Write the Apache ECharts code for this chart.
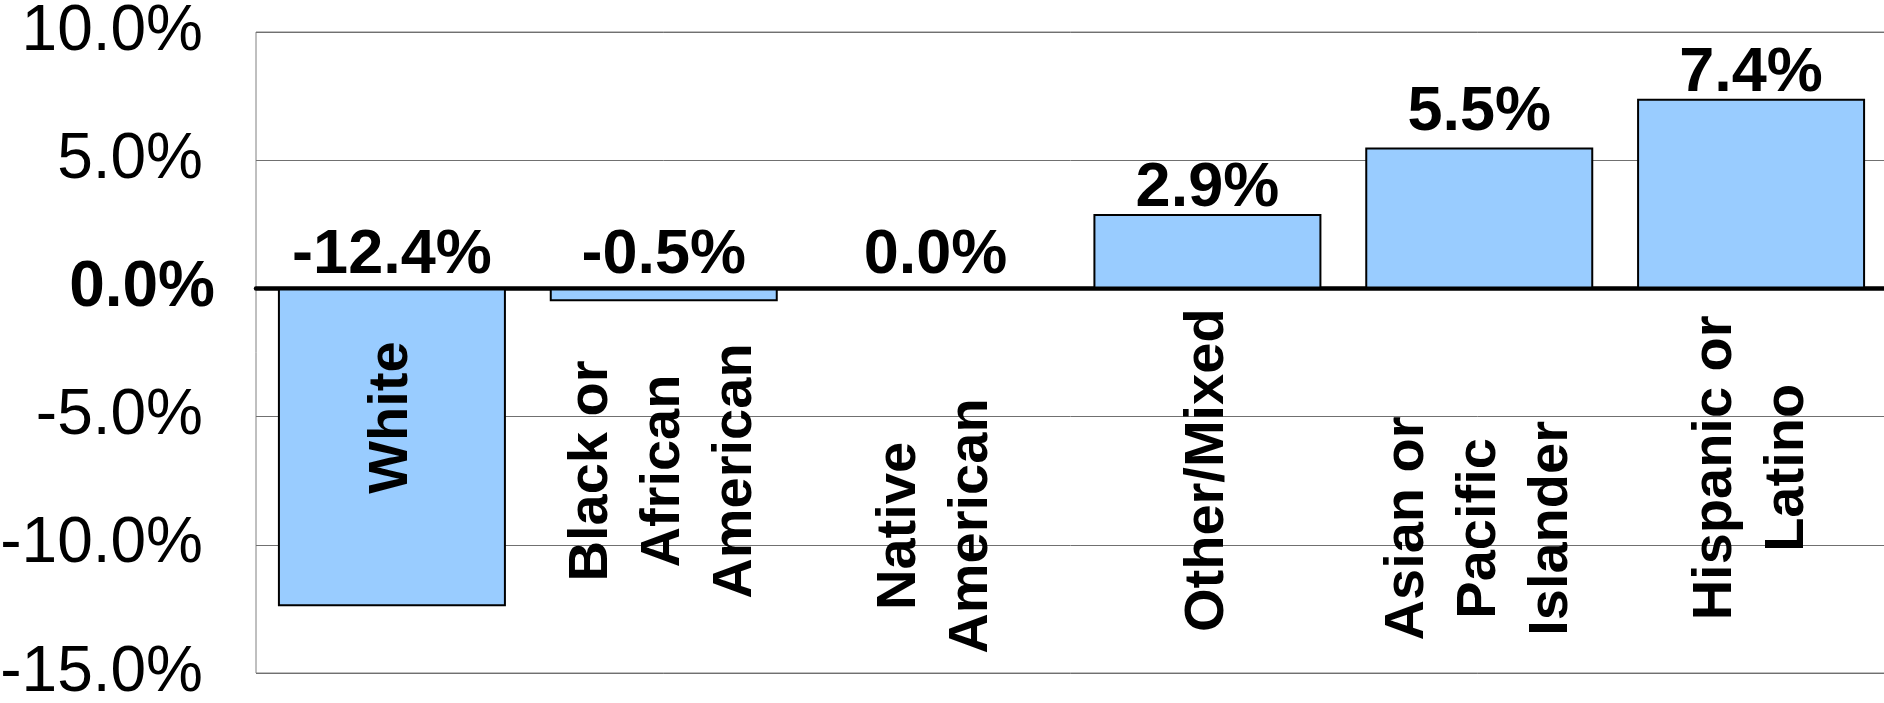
<!DOCTYPE html>
<html>
<head>
<meta charset="utf-8">
<script src="https://cdn.jsdelivr.net/npm/echarts@6/dist/echarts.min.js"></script>
<style>
html,body{margin:0;padding:0;background:#fff;}
#chart{width:1884px;height:703px;}
</style>
</head>
<body>
<div id="chart"></div>
<script>
const categories = ['White', 'Black or\nAfrican\nAmerican', 'Native\nAmerican', 'Other/Mixed', 'Asian or\nPacific\nIslander', 'Hispanic or\nLatino'];
const changeValues = [-12.4, -0.5, 0.0, 2.9, 5.5, 7.4];
const yTickValues = [-15, -10, -5, 0, 5, 10];

// layout only (not data): gap of each category label below the zero line, and value-label distances
const categoryLabelGap = [53, 55, 110, 20, 128, 27];
const valueLabelDistance = [1, 1, 1, -6, 3, -6];

const FONT = '"Liberation Sans", Arial, Helvetica, sans-serif';

const chart = echarts.init(document.getElementById('chart'), null, {renderer: 'canvas'});

const option = {
  animation: false,
  backgroundColor: '#ffffff',
  grid: {
    left: 256, top: 32, right: -3, bottom: 30,
    outerBoundsMode: 'none',
    containLabel: false,
    show: true,
    borderColor: '#808080',
    borderWidth: 1,
    backgroundColor: 'transparent'
  },
  xAxis: {
    type: 'category',
    data: categories,
    axisLine: { show: true, onZero: true, lineStyle: { color: '#000', width: 4.5 } },
    axisTick: { show: false },
    splitLine: { show: false },
    axisLabel: { show: false }
  },
  yAxis: {
    type: 'value',
    min: -15, max: 10, interval: 5,
    axisLine: { show: false },
    axisTick: { show: false },
    splitLine: { show: true, lineStyle: { color: '#707070', width: 1 } },
    axisLabel: {
      margin: 41,
      showMinLabel: true, showMaxLabel: true,
      formatter: function (v) {
        if (!yTickValues.includes(v)) return '';
        return v === 0 ? '{b|0.0%}' : '{n|' + v.toFixed(1) + '%}';
      },
      rich: {
        n: { fontFamily: FONT, fontSize: 64, color: '#000', padding: [0, 12, 0, 0] },
        b: { fontFamily: FONT, fontSize: 64, fontWeight: 'bold', color: '#000' }
      }
    }
  },
  series: [
    {
      type: 'bar',
      data: changeValues,
      barWidth: 228,
      itemStyle: { color: '#99CCFF', borderColor: '#000', borderWidth: 2 },
      z: 2,
      silent: true
    },
    {
      // value labels: placed above the bar top, or above the zero line for non-positive values
      type: 'bar',
      data: changeValues.map((v, i) => ({
        value: Math.max(v, 0),
        label: { distance: valueLabelDistance[i] }
      })),
      barWidth: 228,
      barGap: '-100%',
      itemStyle: { color: 'rgba(0,0,0,0)', borderWidth: 0 },
      z: 5,
      silent: true,
      label: {
        show: true,
        position: 'top',
        fontFamily: FONT,
        fontSize: 63,
        fontWeight: 'bold',
        color: '#000',
        formatter: function (p) { return changeValues[p.dataIndex].toFixed(1) + '%'; }
      }
    },
    {
      // category labels hanging below the zero line, rotated 90°
      type: 'bar',
      data: categories.map((c, i) => ({
        value: 0,
        label: { distance: categoryLabelGap[i] }
      })),
      barWidth: 228,
      barGap: '-100%',
      itemStyle: { color: 'rgba(0,0,0,0)', borderWidth: 0 },
      z: 6,
      silent: true,
      label: {
        show: true,
        position: 'bottom',
        rotate: 90,
        align: 'right',
        verticalAlign: 'middle',
        formatter: function (p) {
          return categories[p.dataIndex].split('\n').map(s => '{c|' + s + '}').join('\n');
        },
        rich: {
          c: { fontFamily: FONT, fontSize: 56, fontWeight: 'bold', color: '#000', align: 'center', lineHeight: 72 }
        }
      }
    }
  ]
};

chart.setOption(option);
</script>
</body>
</html>
